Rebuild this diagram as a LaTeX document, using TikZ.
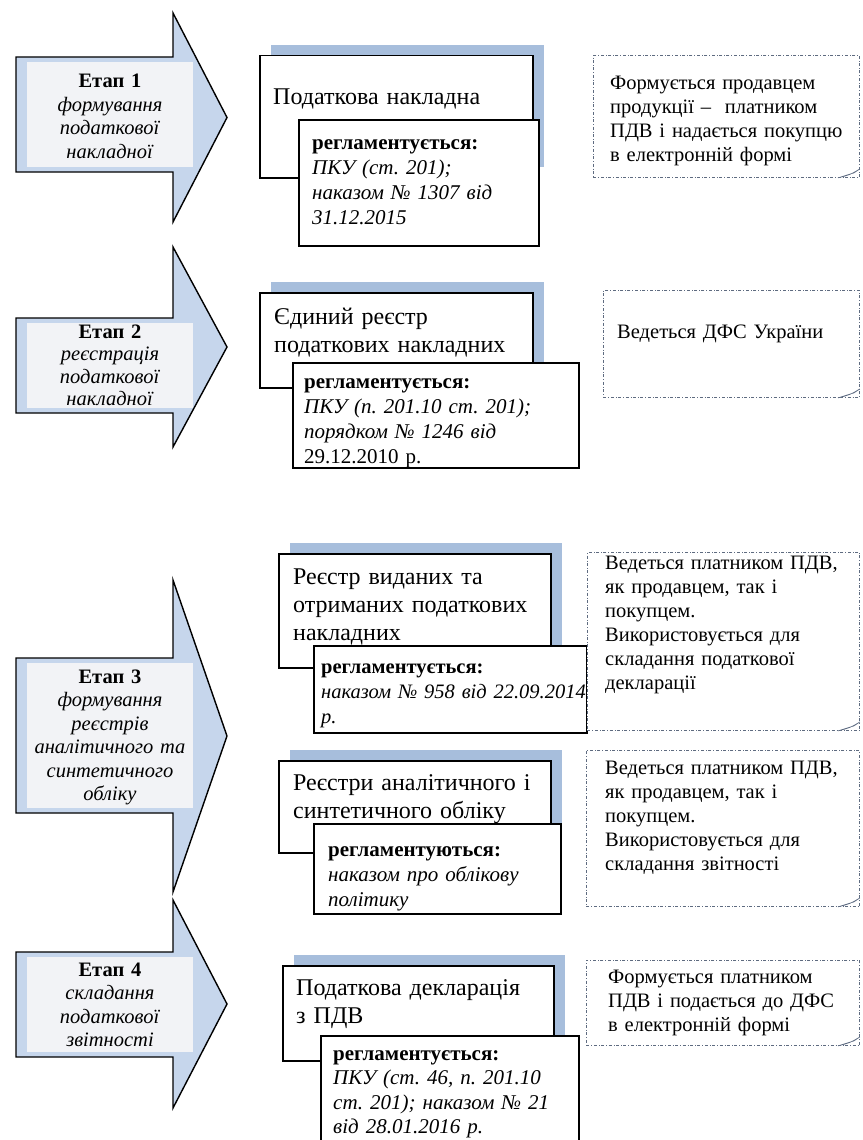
\documentclass[tikz,border=0pt]{standalone}
\usepackage{fontspec}
\setmainfont{Liberation Serif}
\usepackage{tikz}
\usetikzlibrary{positioning, shadows}

\definecolor{arrowblue}{HTML}{C6D6EC}
\definecolor{stagefill}{HTML}{F2F3F6}
\definecolor{shadowblue}{HTML}{A7BEDC}
\definecolor{notegray}{HTML}{5E6B80}
\frenchspacing

\begin{document}
\begin{tikzpicture} [x = 1pt, y = 1pt,
	stagearrow/.style = {draw = black, line width = 1.4pt, fill = arrowblue, line join = miter},
	stagepad/.style = {fill = stagefill, draw = none},
	stagetext/.style = {anchor = base, align = center, text width = 166pt, inner sep = 0pt,
		font = \fontsize{20.5}{23.5}\selectfont},
	docbox/.style = {draw, line width = 1.5pt, fill = white, inner sep = 0pt, anchor = north west,
		drop shadow = {shadow xshift = 11pt, shadow yshift = 11pt, fill = shadowblue, opacity = 1}},
	regbox/.style = {draw, line width = 1.5pt, fill = white, inner sep = 0pt, anchor = north west},
	doctext/.style = {anchor = base west, align = left, text width = 290pt, inner sep = 0pt,
		font = \fontsize{24}{28}\selectfont},
	regtext/.style = {anchor = base west, align = left, text width = 290pt, inner sep = 0pt,
		font = \fontsize{21}{25}\selectfont},
	notebox/.style = {draw = notegray, dash dot, line width = 0.9pt, fill = white, inner sep = 0pt,
		anchor = north west},
	notetext/.style = {anchor = base west, align = left, text width = 290pt, inner sep = 0pt,
		font = \fontsize{20.5}{24}\selectfont},
	curl/.style = {fill = shadowblue, draw = notegray, line width = 0.6pt}]
	% Help grid
	%	\draw [help lines, step = 50] (0,0) grid (862,-1140);
	\useasboundingbox (0,0) rectangle (862,-1140);

	% Stage arrows
	\draw [stagearrow] (16,-57) -- (173,-57) -- (173,-13) -- (227,-117.5) -- (173,-222) -- (173,-172) -- (16,-172) -- cycle;
	\fill [stagepad] (27,-62) rectangle (193,-167);
	\node (st1) [stagetext] at (110,-88) {\textbf{Етап 1}\\ \textit{формування}\\ \textit{податкової}\\ \textit{накладної}};

	\draw [stagearrow] (16,-318) -- (173,-318) -- (173,-247) -- (227,-347) -- (173,-447) -- (173,-413) -- (16,-413) -- cycle;
	\fill [stagepad] (27,-323) rectangle (193,-408);
	\node (st2) [stagetext, font = \fontsize{20.5}{22.5}\selectfont] at (110,-338) {\textbf{Етап 2}\\ \textit{реєстрація}\\ \textit{податкової}\\ \textit{накладної}};

	\draw [stagearrow] (16,-658) -- (173,-658) -- (173,-580) -- (227,-736) -- (173,-892) -- (173,-813) -- (16,-813) -- cycle;
	\fill [stagepad] (27,-663) rectangle (193,-808);
	\node (st3) [stagetext] at (110,-683) {\textbf{Етап 3}\\ \textit{формування}\\ \textit{реєстрів}\\ \textit{аналітичного та}\\ \textit{синтетичного}\\ \textit{обліку}};

	\draw [stagearrow] (16,-952) -- (173,-952) -- (173,-900) -- (227,-1004) -- (173,-1108) -- (173,-1057) -- (16,-1057) -- cycle;
	\fill [stagepad] (27,-957) rectangle (193,-1052);
	\node (st4) [stagetext] at (110,-976) {\textbf{Етап 4}\\ \textit{складання}\\ \textit{податкової}\\ \textit{звітності}};

	% Document boxes
	\node (doc1) [docbox, minimum width = 273, minimum height = 122] at (259,-55) {};
	\node (doc1t) [doctext] at (273,-104) {Податкова накладна};
	\node (reg1) [regbox, minimum width = 240, minimum height = 126] at (298,-119) {};
	\node (reg1t) [regtext] at (312,-149) {\textbf{регламентується:}\\ \textit{ПКУ (ст. 201);}\\ \textit{наказом № 1307 від}\\ \textit{31.12.2015}};

	\node (doc2) [docbox, minimum width = 273, minimum height = 95] at (259,-292) {};
	\node (doc2t) [doctext] at (274,-324) {Єдиний реєстр\\ податкових накладних};
	\node (reg2) [regbox, minimum width = 286, minimum height = 105] at (292,-362) {};
	\node (reg2t) [regtext] at (304,-388) {\textbf{регламентується:}\\ \textit{ПКУ (п. 201.10 ст. 201);}\\ \textit{порядком № 1246 від}\\ 29.12.2010 р.};

	\node (doc3) [docbox, minimum width = 272, minimum height = 114] at (278,-553) {};
	\node (doc3t) [doctext] at (293,-584) {Реєстр виданих та\\ отриманих податкових\\ накладних};
	\node (reg3) [regbox, minimum width = 273, minimum height = 87] at (313,-645) {};
	\node (reg3t) [regtext, font = \fontsize{20.5}{25}\selectfont] at (321,-673) {\textbf{регламентується:}\\ \textit{наказом № 958 від 22.09.2014}\\ \textit{р.}};

	\node (doc4) [docbox, minimum width = 272, minimum height = 92] at (278,-760) {};
	\node (doc4t) [doctext] at (293,-790) {Реєстри аналітичного і\\ синтетичного обліку};
	\node (reg4) [regbox, minimum width = 247, minimum height = 90] at (313,-823) {};
	\node (reg4t) [regtext] at (328,-856) {\textbf{регламентуються:}\\ \textit{наказом про облікову}\\ \textit{політику}};

	\node (doc5) [docbox, minimum width = 271, minimum height = 95] at (282,-965) {};
	\node (doc5t) [doctext] at (296,-995) {Податкова декларація\\ з ПДВ};
	\node (reg5) [regbox, minimum width = 258, minimum height = 115] at (320,-1035) {};
	\node (reg5t) [regtext, font = \fontsize{21}{24.5}\selectfont] at (333,-1060) {\textbf{регламентується:}\\ \textit{ПКУ (ст. 46, п. 201.10}\\ \textit{ст. 201); наказом № 21}\\ \textit{від 28.01.2016 р.}};

	% Notes
	\node (note1) [notebox, minimum width = 266, minimum height = 122] at (593,-55) {};
	\node (note1t) [notetext] at (610,-89) {Формується продавцем\\ продукції –\ \ платником\\ ПДВ і надається покупцю\\ в електронній формі};

	\node (note2) [notebox, minimum width = 256, minimum height = 107] at (603,-290) {};
	\node (note2t) [notetext] at (617,-338) {Ведеться ДФС України};

	\node (note3) [notebox, minimum width = 272, minimum height = 178] at (587,-552) {};
	\node (note3t) [notetext] at (605,-569) {Ведеться платником ПДВ,\\ як продавцем, так і\\ покупцем.\\ Використовується для\\ складання податкової\\ декларації};

	\node (note4) [notebox, minimum width = 273, minimum height = 156] at (586,-750) {};
	\node (note4t) [notetext] at (605,-774) {Ведеться платником ПДВ,\\ як продавцем, так і\\ покупцем.\\ Використовується для\\ складання звітності};

	\node (note5) [notebox, minimum width = 273, minimum height = 85] at (586,-960) {};
	\node (note5t) [notetext] at (608,-983) {Формується платником\\ ПДВ і подається до ДФС\\ в електронній формі};

	% Page curls
	\filldraw [curl] ([xshift = -22pt]note1.south east) .. controls ([xshift = -10pt, yshift = 3pt]note1.south east) .. ([yshift = 9pt]note1.south east) -- ([xshift = -6pt, yshift = 5pt]note1.south east) -- cycle;
	\filldraw [curl] ([xshift = -22pt]note2.south east) .. controls ([xshift = -10pt, yshift = 3pt]note2.south east) .. ([yshift = 9pt]note2.south east) -- ([xshift = -6pt, yshift = 5pt]note2.south east) -- cycle;
	\filldraw [curl] ([xshift = -22pt]note3.south east) .. controls ([xshift = -10pt, yshift = 3pt]note3.south east) .. ([yshift = 9pt]note3.south east) -- ([xshift = -6pt, yshift = 5pt]note3.south east) -- cycle;
	\filldraw [curl] ([xshift = -22pt]note4.south east) .. controls ([xshift = -10pt, yshift = 3pt]note4.south east) .. ([yshift = 9pt]note4.south east) -- ([xshift = -6pt, yshift = 5pt]note4.south east) -- cycle;
	\filldraw [curl] ([xshift = -22pt]note5.south east) .. controls ([xshift = -10pt, yshift = 3pt]note5.south east) .. ([yshift = 9pt]note5.south east) -- ([xshift = -6pt, yshift = 5pt]note5.south east) -- cycle;
\end{tikzpicture}
\end{document}
